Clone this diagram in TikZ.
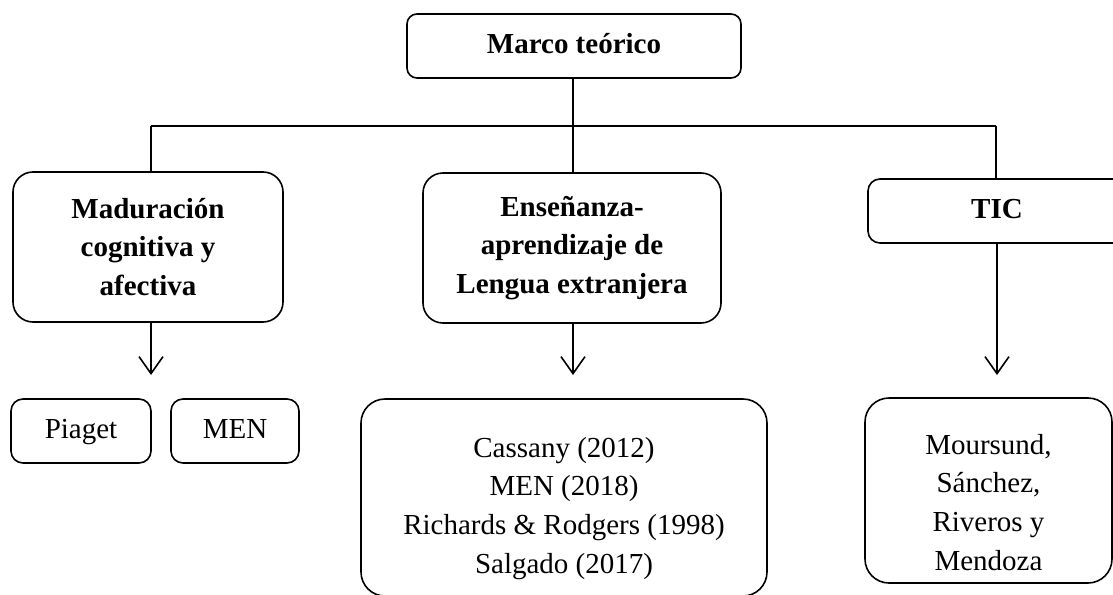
\documentclass[tikz,border=0pt]{standalone}
\usepackage{fontspec}
\setmainfont{Liberation Serif}
\usetikzlibrary{arrows.meta}
\begin{document}
\begin{tikzpicture}[x=1pt,y=-1pt,
  box/.style={draw,line width=1.6pt,align=center,inner sep=0pt,
    font=\fontsize{29}{38.8}\selectfont},
  head/.style={box,font=\fontsize{29}{38.5}\selectfont\bfseries},
  single/.style={text height=20pt,text depth=6pt},
  link/.style={line width=1.6pt},
  arr/.style={line width=1.6pt,-{Straight Barb[length=17pt,width=24pt,line width=1.6pt]}}]
\useasboundingbox (0,0) rectangle (1113,594);
\clip (0,0) rectangle (1113,594);
% headings
\node[head,single,rounded corners=10pt,minimum width=334pt,minimum height=64pt] (marco) at (574,46) {Marco teórico};
\node[head,rounded corners=20pt,minimum width=270pt,minimum height=150pt] (mad) at (148,247) {Maduración\\cognitiva y\\afectiva};
\node[head,rounded corners=20pt,minimum width=298pt,minimum height=150pt] (ens) at (572,248) {Enseñanza-\\aprendizaje de\\Lengua extranjera};
\node[head,single,rounded corners=12pt,minimum width=258pt,minimum height=64pt] (tic) at (997,211) {TIC};
% sources
\node[box,single,rounded corners=12pt,minimum width=140pt,minimum height=64pt] (piaget) at (81,431) {Piaget};
\node[box,single,rounded corners=12pt,minimum width=128pt,minimum height=64pt] (men) at (235,431) {MEN};
\node[box,rounded corners=24pt,minimum width=406pt,minimum height=197pt] (cas) at (564,497.5) {\rule{0pt}{42pt}Cassany (2012)\\MEN (2018)\\Richards \& Rodgers (1998)\\Salgado (2017)};
\node[box,rounded corners=24pt,minimum width=247pt,minimum height=185pt] (mou) at (988.5,490.5) {\rule{0pt}{44pt}Moursund,\\Sánchez,\\Riveros y\\Mendoza};
% connectors
\coordinate (busL) at (151,126);
\coordinate (busR) at (996,126);
\coordinate (busM) at (573,126);
\draw[link] (busL) -- (busR);
\draw[link] (marco.south -| busM) -- (ens.north -| busM);
\draw[link] (busL) -- (busL |- mad.north);
\draw[link] (busR) -- (busR |- tic.north);
\coordinate (t1) at (151,375);
\coordinate (t2) at (573,375);
\coordinate (t3) at (997,375);
\draw[arr] (mad.south -| t1) -- (t1);
\draw[arr] (ens.south -| t2) -- (t2);
\draw[arr] (tic.south -| t3) -- (t3);
\end{tikzpicture}
\end{document}
